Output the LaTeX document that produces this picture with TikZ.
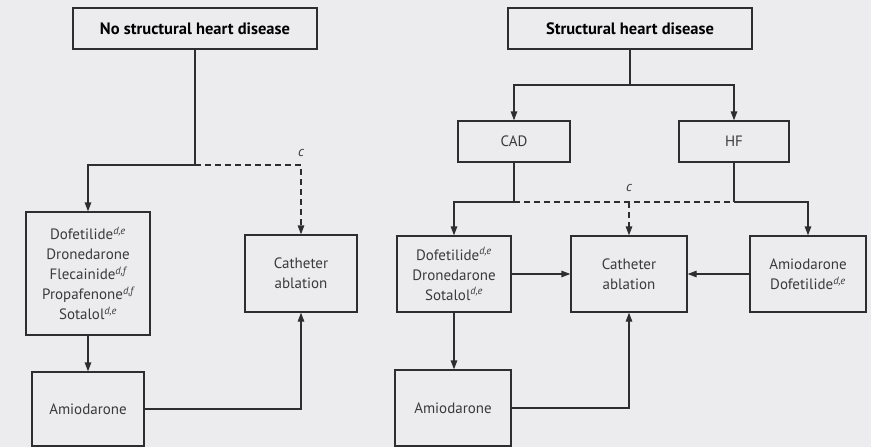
\documentclass[tikz,border=0pt]{standalone}
\usepackage{fontspec}
\setmainfont{PT Sans}
\usetikzlibrary{arrows.meta}
\definecolor{bg}{HTML}{ECECEF}
\definecolor{ln}{HTML}{2E2E2E}
\definecolor{tx}{HTML}{3A3A3A}
\newcommand{\sps}[1]{\textsuperscript{\itshape #1}}
\tikzset{
  box/.style={draw=ln, line width=1.3pt, fill=bg, text=tx, align=center, inner sep=0pt,
    font=\fontsize{15}{20}\selectfont},
  head/.style={box, font=\fontsize{16.5}{20}\selectfont\bfseries, text=black},
  conn/.style={draw=ln, line width=1.3pt},
  arr/.style={conn, -{Triangle[length=9pt,width=6.5pt]}},
  dsh/.style={dash pattern=on 6pt off 4pt},
  lbl/.style={text=tx, font=\fontsize{14}{16}\selectfont\itshape, inner sep=0pt}
}
\begin{document}
\begin{tikzpicture}[x=1pt,y=-1pt]
\fill[bg] (0,0) rectangle (871,447);
\useasboundingbox (0,0) rectangle (871,447);
% left
\node[head, minimum width=244pt, minimum height=41pt] (nsh) at (195,28.5) {No structural heart disease};
\node[box, minimum width=124pt, minimum height=123pt] (ldrug) at (88,273.5)
  {Dofetilide\sps{d,e}\\Dronedarone\\Flecainide\sps{d,f}\\Propafenone\sps{d,f}\\Sotalol\sps{d,e}};
\node[box, minimum width=112pt, minimum height=74pt] (lamio) at (88,409) {Amiodarone};
\node[box, minimum width=112pt, minimum height=77pt] (lcath) at (301,273.5) {Catheter\\ablation};
\coordinate (lj) at (195,165);
\node[lbl] (lc) at (301,153) {c};
\draw[conn] (nsh.south) -- (lj);
\draw[arr] (lj) -| (ldrug.north);
\draw[arr, dsh] (lj) -| (lcath.north);
\draw[arr] (ldrug.south) -- (lamio.north);
\draw[arr] (lamio.east) -| (lcath.south);
% right
\node[head, minimum width=244pt, minimum height=41pt] (sh) at (630,28.5) {Structural heart disease};
\node[box, minimum width=112pt, minimum height=41pt] (cad) at (514,141.5) {CAD};
\node[box, minimum width=110pt, minimum height=41pt] (hf) at (734,141.5) {HF};
\node[box, minimum width=114pt, minimum height=76pt] (rdrug) at (454,274)
  {Dofetilide\sps{d,e}\\Dronedarone\\Sotalol\sps{d,e}};
\node[box, minimum width=116pt, minimum height=76pt] (rcath) at (629,274) {Catheter\\ablation};
\node[box, minimum width=116pt, minimum height=76pt] (hfdrug) at (808,274)
  {Amiodarone\\Dofetilide\sps{d,e}};
\node[box, minimum width=116pt, minimum height=76pt] (ramio) at (453,408) {Amiodarone};
\coordinate (rj) at (630,85);
\coordinate (cj) at (514,202);
\coordinate (hj) at (734,202);
\coordinate (mj) at (629,202);
\node[lbl] (rc) at (629,188) {c};
\draw[conn] (sh.south) -- (rj);
\draw[arr] (rj) -| (cad.north);
\draw[arr] (rj) -| (hf.north);
\draw[conn] (cad.south) -- (cj);
\draw[conn] (hf.south) -- (hj);
\draw[arr] (cj) -| (rdrug.north);
\draw[arr] (hj) -| (hfdrug.north);
\draw[conn, dsh] (cj) -- (hj);
\draw[arr, dsh] (mj) -- (rcath.north);
\draw[arr] (rdrug.east) -- (rcath.west);
\draw[arr] (hfdrug.west) -- (rcath.east);
\draw[arr] (rdrug.south) -- (ramio.north -| rdrug.south);
\draw[arr] (ramio.east) -| (rcath.south);
\end{tikzpicture}
\end{document}
